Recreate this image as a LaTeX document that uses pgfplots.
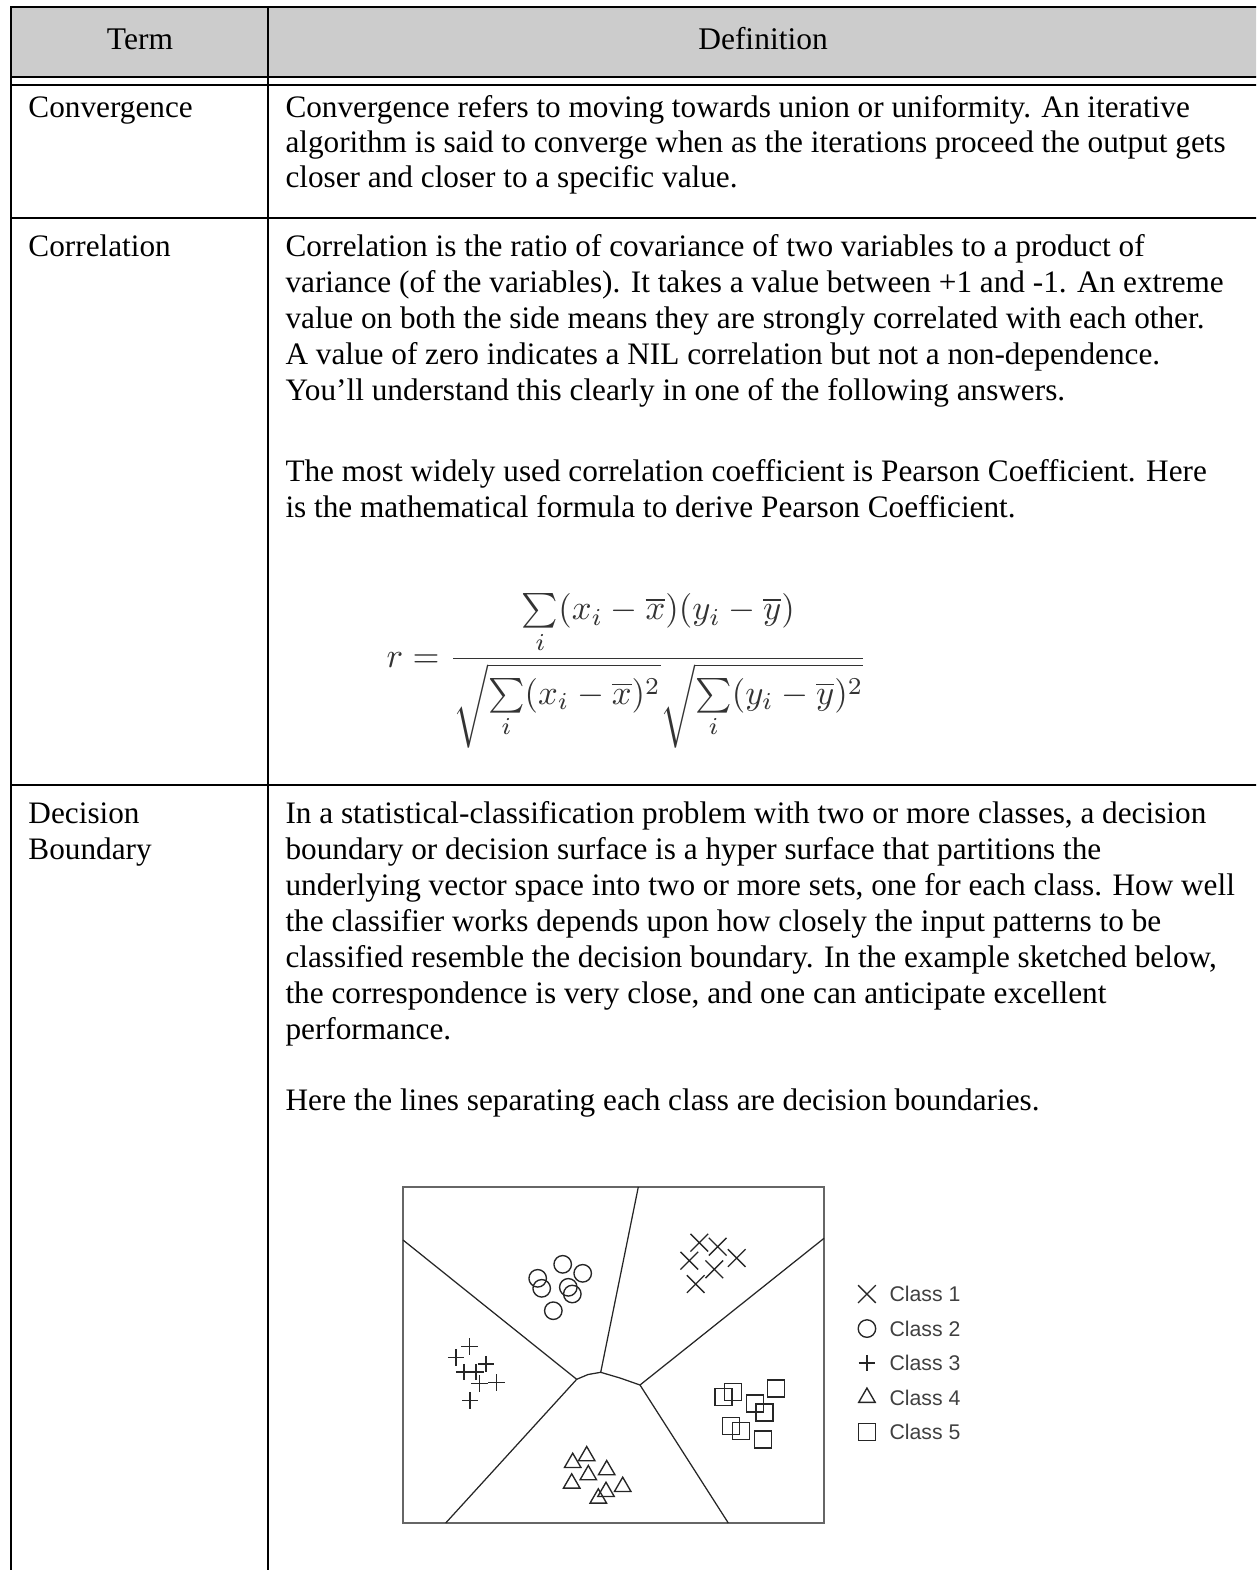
\documentclass[border=0pt]{standalone}
\usepackage{pgfplots}
\pgfplotsset{compat=1.18}
\usepackage{graphicx}
\usepackage{fontspec}
\setmainfont{Liberation Serif}
\newfontfamily\legfont{Liberation Sans}
\definecolor{hdrgray}{RGB}{204,204,204}

\pgfplotsset{
  cls/.style={only marks, black!85, mark options={line width=0.55pt, solid},
    legend image code/.code={\draw[##1] plot coordinates {(0.12cm,0cm)};}},
}

\begin{document}
\begin{tikzpicture}
\begin{scope}[x=0.4pt, y=-0.4pt,
  t/.style={anchor=base west, inner sep=0pt, font=\fontsize{12.5}{15}\selectfont},
  h/.style={anchor=base, inner sep=0pt, font=\fontsize{12.6}{15}\selectfont}]
\path[use as bounding box] (0,0) rectangle (1256,1570);
\clip (0,0) rectangle (1256,1570);
% header
\fill[hdrgray] (11,7) rectangle (1270,77);
\draw[line width=0.8pt] (1270,7) -- (11,7) -- (11,1600);
\draw[line width=0.8pt] (268,7) -- (268,1600);
\draw[line width=0.8pt] (11,77) -- (1270,77);
\draw[line width=0.8pt] (11,85) -- (1270,85);
\draw[line width=0.8pt] (11,218) -- (1270,218);
\draw[line width=0.8pt] (11,785) -- (1270,785);
\node[h] at (140,50) {Term};
\node[h] at (763,50) {Definition};
% row 1
\node[t] at (28,118) {Convergence};
\node[t] at (285,118) {Convergence refers to moving towards union or uniformity. An iterative};
\node[t] at (285,153) {algorithm is said to converge when as the iterations proceed the output gets};
\node[t] at (285,188) {closer and closer to a specific value.};
% row 2
\node[t] at (28,257) {Correlation};
\node[t] at (285,257) {Correlation is the ratio of covariance of two variables to a product of};
\node[t] at (285,293) {variance (of the variables). It takes a value between +1 and -1. An extreme};
\node[t] at (285,329) {value on both the side means they are strongly correlated with each other.};
\node[t] at (285,365) {A value of zero indicates a NIL correlation but not a non-dependence.};
\node[t] at (285,401) {You’ll understand this clearly in one of the following answers.};
\node[t] at (285,482) {The most widely used correlation coefficient is Pearson Coefficient. Here};
\node[t] at (285,518) {is the mathematical formula to derive Pearson Coefficient.};
\node[anchor=center, inner sep=0pt, text=black!80] at (627,671)
  {\resizebox{192.4pt}{!}{$\displaystyle r=\frac{\sum\limits_{i}(x_i-\overline{x})(y_i-\overline{y})}{\sqrt{\sum\limits_{i}(x_i-\overline{x})^2}\sqrt{\sum\limits_{i}(y_i-\overline{y})^2}}$}};
% row 3
\node[t] at (28,823) {Decision};
\node[t] at (28,859) {Boundary};
\node[t] at (285,823) {In a statistical-classification problem with two or more classes, a decision};
\node[t] at (285,859) {boundary or decision surface is a hyper surface that partitions the};
\node[t] at (285,895) {underlying vector space into two or more sets, one for each class. How well};
\node[t] at (285,931) {the classifier works depends upon how closely the input patterns to be};
\node[t] at (285,967) {classified resemble the decision boundary. In the example sketched below,};
\node[t] at (285,1003) {the correspondence is very close, and one can anticipate excellent};
\node[t] at (285,1039) {performance.};
\node[t] at (285,1110) {Here the lines separating each class are decision boundaries.};
\coordinate (psw) at (403,1523);
\end{scope}

\begin{axis}[
  at={(psw)}, anchor=south west,
  scale only axis, width=168.4pt, height=134.4pt,
  xmin=0, xmax=421, ymin=0, ymax=336,
  ticks=none, clip=false,
  axis line style={black!60, line width=0.8pt},
  legend style={at={(1.062,0.732)}, anchor=north west, draw=none, fill=none,
    font=\legfont\fontsize{8.5}{9}\selectfont, text=black!75,
    row sep=4.6pt, nodes={inner sep=1.5pt, text height=6.2pt, text depth=0pt},
    /tikz/every odd column/.append style={column sep=4pt}},
  legend cell align=left,
]
% class 1
\addplot[cls, mark=x, mark size=5pt] coordinates {
 (296.3,280.3)(314.7,276.3)(286.3,262.3)(311.3,253.7)(333.7,265.0)(292.7,239.0)};
\addlegendentry{Class 1}
% class 2
\addplot[cls, mark=o, mark size=3.5pt] coordinates {
 (159.7,258.7)(179.7,249.7)(134.7,244.7)(138.7,234.7)(165.3,235.7)(169.3,229.0)(150.3,212.3)};
\addlegendentry{Class 2}
% class 3
\addplot[cls, mark=+, mark size=3.3pt] coordinates {
 (66.3,176.3)(53.0,165.7)(83.0,159.0)(61.0,151.0)(73.0,151.0)(76.3,139.7)(93.7,140.3)(67.0,122.3)};
\addlegendentry{Class 3}
% class 4
\addplot[cls, mark=triangle, mark size=3.8pt] coordinates {
 (169.7,60.3)(183.7,67.0)(203.7,53.0)(185.3,48.0)(168.7,39.7)(219.7,36.3)(195.3,24.7)(203.0,31.3)};
\addlegendentry{Class 4}
% class 5
\addplot[cls, mark=square, mark size=3.4pt] coordinates {
 (320.3,126.3)(329.7,131.3)(352.0,119.7)(373.0,134.7)(361.3,110.7)(328.0,97.3)(337.7,92.3)(359.7,83.7)};
\addlegendentry{Class 5}
% boundaries
\addplot[forget plot, black!85, line width=0.5pt] coordinates {(235.3,336)(197.7,150.7)};
\addplot[forget plot, black!85, line width=0.5pt] coordinates {(0,283)(173.7,143.7)};
\addplot[forget plot, black!85, line width=0.5pt] coordinates {(421,284.7)(237,138)};
\addplot[forget plot, black!85, line width=0.5pt] coordinates {(173.7,143.7)(185,148.5)(197.7,150.7)(217,145)(237,138)};
\addplot[forget plot, black!85, line width=0.5pt] coordinates {(173.7,143.7)(42.7,0)};
\addplot[forget plot, black!85, line width=0.5pt] coordinates {(237,138)(325.3,0)};
\end{axis}
\end{tikzpicture}
\end{document}
